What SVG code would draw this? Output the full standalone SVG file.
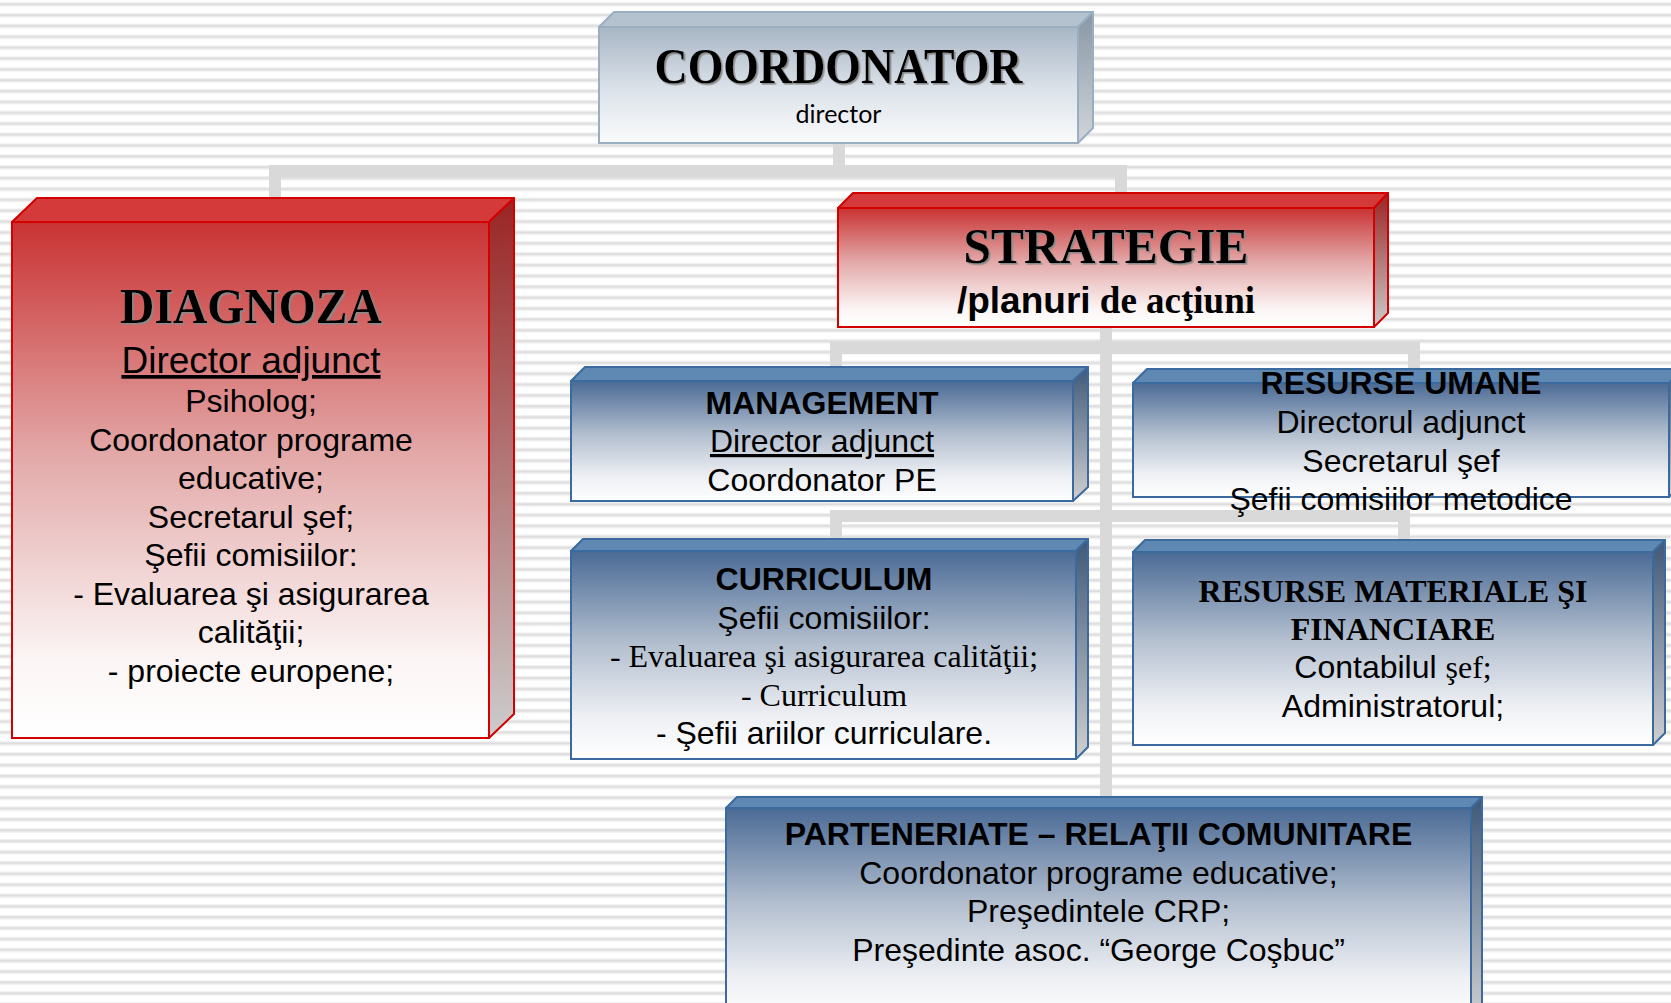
<svg xmlns="http://www.w3.org/2000/svg" width="1671" height="1003" viewBox="0 0 1671 1003">
<defs>
<pattern id="stripes" x="0" y="0" width="20" height="10.87" patternUnits="userSpaceOnUse">
<rect x="0" y="0" width="20" height="10.87" fill="#ffffff"/>
<rect x="0" y="2.2" width="20" height="1" fill="#ececec"/>
<rect x="0" y="3.2" width="20" height="2.2" fill="#dcdcdc"/>
<rect x="0" y="5.4" width="20" height="1" fill="#ececec"/>
</pattern>
<linearGradient id="gBlue" x1="0" y1="0" x2="0" y2="1">
<stop offset="0" stop-color="#4a6a95"/>
<stop offset="0.45" stop-color="#b3bfcf"/>
<stop offset="0.8" stop-color="#eef0f4"/>
<stop offset="1" stop-color="#ffffff"/>
</linearGradient>
<linearGradient id="gRed" x1="0" y1="0" x2="0" y2="1">
<stop offset="0" stop-color="#c93232"/>
<stop offset="0.45" stop-color="#e3a8a8"/>
<stop offset="0.85" stop-color="#fcf5f5"/>
<stop offset="1" stop-color="#ffffff"/>
</linearGradient>
<linearGradient id="gGray" x1="0" y1="0" x2="0" y2="1">
<stop offset="0" stop-color="#a8b6c5"/>
<stop offset="0.55" stop-color="#dde3ea"/>
<stop offset="1" stop-color="#fafbfc"/>
</linearGradient>
<linearGradient id="sBlue" x1="0" y1="0" x2="0" y2="1">
<stop offset="0" stop-color="#3e5878"/>
<stop offset="1" stop-color="#d0d0d0"/>
</linearGradient>
<linearGradient id="sRed" x1="0" y1="0" x2="0" y2="1">
<stop offset="0" stop-color="#9a2424"/>
<stop offset="1" stop-color="#cccccc"/>
</linearGradient>
<linearGradient id="sGray" x1="0" y1="0" x2="0" y2="1">
<stop offset="0" stop-color="#8896a4"/>
<stop offset="1" stop-color="#d2d6da"/>
</linearGradient>
<filter id="engrave" x="-5%" y="-20%" width="110%" height="140%">
<feDropShadow dx="1.6" dy="1.6" stdDeviation="0" flood-color="#8a8a8a" flood-opacity="1"/>
</filter>
</defs>
<style>
.blue .front{fill:url(#gBlue);stroke:#3a6a9e;stroke-width:2}
.blue .top{fill:#5f88b3;stroke:#3a6a9e;stroke-width:2;stroke-linejoin:round}
.blue .side{fill:url(#sBlue);stroke:#3a6a9e;stroke-width:2;stroke-linejoin:round}
.red .front{fill:url(#gRed);stroke:#d40000;stroke-width:2}
.red .top{fill:#d43a3a;stroke:#d40000;stroke-width:2;stroke-linejoin:round}
.red .side{fill:url(#sRed);stroke:#d40000;stroke-width:2;stroke-linejoin:round}
.gray .front{fill:url(#gGray);stroke:#9aaec2;stroke-width:2}
.gray .top{fill:#b4c2d0;stroke:#9aaec2;stroke-width:2;stroke-linejoin:round}
.gray .side{fill:url(#sGray);stroke:#9aaec2;stroke-width:2;stroke-linejoin:round}
.conn{fill:none;stroke:#d9d9d9;stroke-width:12}
text{text-anchor:middle;fill:#000}
.title{font-family:"Liberation Serif",serif;font-weight:bold;font-size:50px;filter:url(#engrave)}
.sans{font-family:"Liberation Sans",Arial,sans-serif;font-size:32px}
.bold{font-weight:bold}
.serif{font-family:"Liberation Serif","Times New Roman",serif}
.u{text-decoration:underline}
.cal{font-family:Lato,"Open Sans",sans-serif;font-size:25px}
</style>
<rect x="0" y="0" width="1671" height="1003" fill="url(#stripes)"/>

<g id="connectors">
<path class="conn" d="M839 143 V171"/>
<path class="conn" d="M275 198 V171 H1121 V194"/>
<path class="conn" d="M1106 327 V798"/>
<path class="conn" d="M836 368 V348 H1414 V370"/>
<path class="conn" d="M836 541 V516 H1404 V541"/>
</g>

<g id="coordonator" class="gray">
<polygon class="top" points="599,27 614,12 1093,12 1078,27"/>
<polygon class="side" points="1078,27 1093,12 1093,128 1078,143"/>
<rect class="front" x="599" y="27" width="479" height="116"/>
<text class="title" x="838.5" y="83" textLength="368" lengthAdjust="spacingAndGlyphs">COORDONATOR</text>
<text class="cal" x="838.5" y="123">director</text>
</g>

<g id="diagnoza" class="red">
<polygon class="top" points="12,222 37,198 514,198 489,222"/>
<polygon class="side" points="489,222 514,198 514,714 489,738"/>
<rect class="front" x="12" y="222" width="477" height="516"/>
<text class="title" x="251" y="323" textLength="262" lengthAdjust="spacingAndGlyphs">DIAGNOZA</text>
<text class="sans u" x="251" y="373" style="font-size:37px">Director adjunct</text>
<text class="sans" x="251" y="412">Psiholog;</text>
<text class="sans" x="251" y="450.5">Coordonator programe</text>
<text class="sans" x="251" y="489">educative;</text>
<text class="sans" x="251" y="527.5">Secretarul şef;</text>
<text class="sans" x="251" y="566">Şefii comisiilor:</text>
<text class="sans" x="251" y="604.5">- Evaluarea şi asigurarea</text>
<text class="sans" x="251" y="643">calităţii;</text>
<text class="sans" x="251" y="681.5">- proiecte europene;</text>
</g>

<g id="strategie" class="red">
<polygon class="top" points="838,208 853,193 1388,193 1374,208"/>
<polygon class="side" points="1374,208 1388,193 1388,313 1374,327"/>
<rect class="front" x="838" y="208" width="536" height="119"/>
<text class="title" x="1106" y="263" textLength="285" lengthAdjust="spacingAndGlyphs">STRATEGIE</text>
<text x="1106" y="313" style="font-size:37px"><tspan class="sans bold" style="font-size:37px">/planuri</tspan><tspan class="serif bold" style="font-size:37px"> de acţiuni</tspan></text>
</g>

<g id="management" class="blue">
<polygon class="top" points="571,381 585,367 1088,367 1073,381"/>
<polygon class="side" points="1073,381 1088,367 1088,487 1073,501"/>
<rect class="front" x="571" y="381" width="502" height="120"/>
<text class="sans bold" x="822" y="414">MANAGEMENT</text>
<text class="sans u" x="822" y="452">Director adjunct</text>
<text class="sans" x="822" y="491">Coordonator PE</text>
</g>

<g id="resurse-umane" class="blue">
<polygon class="top" points="1133,383 1147,369 1683,369 1669,383"/>
<polygon class="side" points="1669,383 1683,369 1683,483 1669,497"/>
<rect class="front" x="1133" y="383" width="536" height="114"/>
<text class="sans bold" x="1401" y="394">RESURSE UMANE</text>
<text class="sans" x="1401" y="433">Directorul adjunct</text>
<text class="sans" x="1401" y="472">Secretarul şef</text>
<text class="sans" x="1401" y="510">Şefii comisiilor metodice</text>
</g>

<g id="curriculum" class="blue">
<polygon class="top" points="571,551 583,539 1088,539 1076,551"/>
<polygon class="side" points="1076,551 1088,539 1088,747 1076,759"/>
<rect class="front" x="571" y="551" width="505" height="208"/>
<text class="sans bold" x="824" y="590">CURRICULUM</text>
<text class="sans" x="824" y="628.5">Şefii comisiilor:</text>
<text class="serif" x="824" y="667" style="font-size:32px">- Evaluarea şi asigurarea calităţii;</text>
<text class="serif" x="824" y="705.5" style="font-size:32px">- Curriculum</text>
<text class="sans" x="824" y="744">- Şefii ariilor curriculare.</text>
</g>

<g id="resurse-materiale" class="blue">
<polygon class="top" points="1133,552 1145,540 1665,540 1653,552"/>
<polygon class="side" points="1653,552 1665,540 1665,733 1653,745"/>
<rect class="front" x="1133" y="552" width="520" height="193"/>
<text class="serif bold" x="1393" y="602" style="font-size:32px">RESURSE MATERIALE ŞI</text>
<text class="serif bold" x="1393" y="640" style="font-size:32px">FINANCIARE</text>
<text x="1393" y="678"><tspan class="sans">Contabilul </tspan><tspan class="serif" style="font-size:32px">şef;</tspan></text>
<text class="sans" x="1393" y="717">Administratorul;</text>
</g>

<g id="parteneriate" class="blue">
<polygon class="top" points="726,808 737,797 1482,797 1471,808"/>
<polygon class="side" points="1471,808 1482,797 1482,1010 1471,1021"/>
<rect class="front" x="726" y="808" width="745" height="213"/>
<text class="sans bold" x="1098.5" y="845">PARTENERIATE – RELAŢII COMUNITARE</text>
<text class="sans" x="1098.5" y="883.5">Coordonator programe educative;</text>
<text class="sans" x="1098.5" y="922">Preşedintele CRP;</text>
<text class="sans" x="1098.5" y="960.5">Preşedinte asoc. “George Coşbuc”</text>
</g>
</svg>
